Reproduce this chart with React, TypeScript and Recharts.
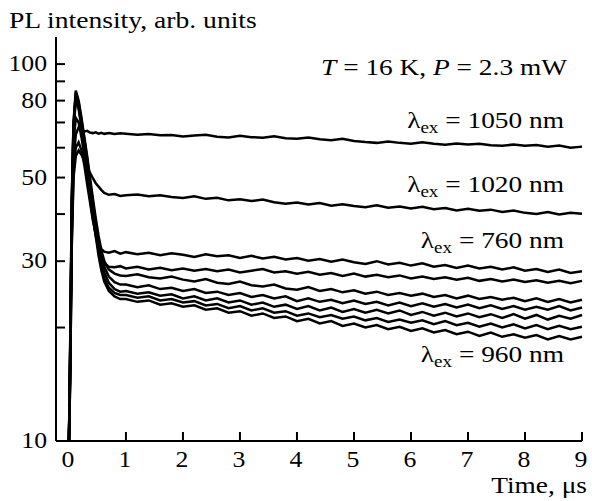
import { LineChart, Line, XAxis, YAxis } from "recharts";

// time axis, µs
const time = [
  0, 0.02, 0.05, 0.08, 0.12, 0.17, 0.22, 0.27, 0.32, 0.37, 0.42, 0.47, 0.52, 0.57, 0.62, 0.7, 0.8, 0.9,
  1.0, 1.2, 1.4, 1.6, 1.8, 2.0, 2.2, 2.4, 2.6, 2.8, 3.0, 3.2, 3.4, 3.6, 3.8, 4.0, 4.2, 4.4,
  4.6, 4.8, 5.0, 5.2, 5.4, 5.6, 5.8, 6.0, 6.2, 6.4, 6.6, 6.8, 7.0, 7.2, 7.4, 7.6, 7.8, 8.0,
  8.2, 8.4, 8.6, 8.8, 9.0,
];

const ex1050 = [
  10, 15, 36, 55, 65, 68, 67, 66.3, 66.5, 65.8, 65.6, 65.9, 65.4, 65.7, 65.3, 65.6, 65.2, 65.5,
  65.3, 64.9, 65.2, 64.7, 64.8, 64.3, 64.6, 64.9, 64.2, 63.9, 64.5, 64.0, 63.8, 64.3, 63.6, 63.4,
  63.9, 63.2, 62.8, 63.4, 62.5, 62.1, 61.8, 62.3, 61.8, 61.5, 62.0, 61.5, 61.1, 61.6, 61.2, 61.5,
  60.9, 60.7, 61.2, 60.7, 61.0, 60.4, 60.8, 60.0, 60.4,
];

const ex1020 = [
  10, 14, 33, 50, 57, 59, 57.5, 55.5, 53.3, 51.5, 49.8, 48.3, 47.3, 46.3, 45.5, 45.0, 45.2, 44.7,
  44.9, 45.1, 44.6, 44.9, 44.4, 44.1, 44.6, 43.9, 44.2, 43.5, 43.8, 43.3, 43.7, 43.0, 42.6, 42.9,
  42.4, 42.8, 42.1, 42.5, 42.0, 41.7, 42.2, 41.6, 41.9, 41.4, 41.8, 41.2, 41.5, 40.9, 41.3, 40.8,
  41.1, 40.5, 40.9, 40.3, 40.0, 40.5, 39.9, 40.3, 40.1,
];

const ex760 = [
  10, 14, 34, 52, 60, 62, 59, 54, 48, 43, 38.5, 35.5, 33.5, 32.3, 31.8, 31.6, 31.9, 31.4,
  31.7, 31.3, 31.6, 31.1, 31.5, 31.2, 30.8, 31.3, 30.9, 31.1, 30.6, 31.0, 30.5, 30.8, 30.3, 30.6,
  30.1, 30.4, 29.9, 30.3, 29.8, 29.5, 30.0, 29.4, 29.7, 29.2, 29.6, 29.0, 29.3, 28.8, 29.2, 28.7,
  29.0, 28.5, 28.9, 28.3, 28.6, 28.1, 28.5, 27.9, 28.2,
];

const exB = [
  10, 16, 40, 62, 72, 70, 64, 57, 50, 44, 39, 35, 32.3, 30.5, 29.6, 29.0, 28.9, 29.1,
  28.7, 29.0, 28.5, 28.8, 28.4, 28.7, 28.3, 28.6, 28.2, 28.5, 28.0, 28.3, 28.6, 28.0, 28.2, 27.8,
  28.1, 27.6, 27.9, 27.4, 27.8, 27.3, 27.6, 27.2, 27.5, 27.0, 27.3, 26.9, 27.2, 26.8, 27.1, 26.6,
  26.9, 26.5, 26.8, 26.4, 26.7, 26.3, 26.6, 26.2, 26.6,
];

const exC1 = [
  10, 17, 44, 70, 85, 80, 72, 64, 57, 50, 44, 39, 35, 32, 30, 28.5, 27.8, 27.5,
  27.4, 27.7, 27.2, 27.0, 27.3, 26.8, 26.5, 26.9, 26.3, 26.1, 26.5, 25.9, 25.7, 26.0, 25.4, 25.2,
  25.6, 25.0, 25.3, 24.8, 25.1, 24.6, 24.9, 24.4, 24.7, 24.3, 24.6, 24.1, 24.4, 23.9, 24.3, 23.8,
  24.1, 23.7, 24.0, 23.5, 23.9, 23.4, 23.8, 23.3, 23.7,
];

const exC2 = [
  10, 17, 43, 69, 84, 79, 71, 63, 56, 49, 43, 38, 34, 31, 29, 27.3, 26.4, 26.0,
  26.0, 25.6, 25.9, 25.3, 25.5, 25.0, 25.3, 24.7, 24.9, 24.4, 24.7, 24.1, 24.4, 23.9, 24.2, 23.5,
  23.9, 23.4, 23.7, 23.2, 23.6, 23.1, 23.4, 22.9, 23.3, 22.8, 23.2, 22.7, 23.1, 22.6, 23.0, 22.5,
  22.9, 22.4, 22.8, 22.3, 22.7, 22.3, 22.8, 22.2, 22.6,
];

const exC3 = [
  10, 16, 42, 68, 83, 78, 70, 62, 55, 48, 42, 37, 33, 30, 28, 26.3, 25.3, 24.9,
  25.0, 24.6, 24.8, 24.3, 24.5, 23.9, 24.2, 23.6, 23.9, 23.3, 23.6, 23.0, 23.3, 22.7, 23.0, 22.4,
  22.8, 22.2, 22.6, 22.0, 22.4, 21.9, 22.3, 21.8, 22.2, 21.6, 22.0, 21.5, 21.9, 21.4, 21.8, 21.3,
  21.7, 21.2, 21.7, 21.1, 21.6, 21.0, 21.5, 21.1, 21.6,
];

const exC4 = [
  10, 16, 41, 67, 82, 77, 69, 61, 54, 47, 41, 36, 32, 29, 27, 25.5, 24.7, 24.4,
  24.4, 24.0, 24.2, 23.6, 23.8, 23.3, 23.5, 22.9, 23.1, 22.5, 22.8, 22.2, 22.5, 21.9, 22.1, 21.5,
  21.8, 21.3, 21.6, 21.1, 21.4, 20.9, 21.2, 20.7, 21.0, 20.6, 20.9, 20.4, 20.8, 20.3, 20.6, 20.1,
  20.5, 20.0, 20.4, 19.9, 20.3, 19.8, 20.2, 19.8, 20.1,
];

const ex960 = [
  10, 15, 40, 66, 81, 76, 68, 60, 53, 46, 40, 35, 31, 28.3, 26.5, 25.0, 24.2, 23.8,
  23.8, 23.4, 23.6, 23.0, 23.2, 22.7, 22.9, 22.3, 22.5, 21.9, 22.1, 21.5, 21.8, 21.2, 21.4, 20.8,
  21.1, 20.5, 20.8, 20.2, 20.5, 20.0, 20.3, 19.8, 20.1, 19.6, 19.9, 19.4, 19.7, 19.2, 19.5, 19.0,
  19.4, 18.9, 19.2, 18.8, 19.1, 18.6, 19.0, 18.6, 18.9,
];

const series = [ex1050, ex1020, ex760, exB, exC1, exC2, exC3, exC4, ex960];

const xTicks = [0, 1, 2, 3, 4, 5, 6, 7, 8, 9];
const yTicks = [10, 20, 30, 40, 50, 60, 70, 80, 90, 100];
const yLabels = [10, 30, 50, 80, 100];

const data = time.map((t, i) => {
  const row: any = { t };
  series.forEach((s, k) => {
    row["s" + k] = s[i];
  });
  return row;
});

const font = "'Liberation Serif', 'Times New Roman', serif";
const txt = { fontFamily: font, fontSize: 23, fill: "#000" };
// the scanned figure's type is a bit wider than Times
const stretch = (x: number, y: number, k = 1.19) => `translate(${x},${y}) scale(${k},1)`;

function YTick(props: any) {
  const { x, y, payload } = props;
  const v = payload.value;
  return (
    <g>
      <line x1={x} x2={x + 9} y1={y} y2={y} stroke="#000" strokeWidth={2} />
      {yLabels.includes(v) && (
        <text transform={stretch(x - 9, y - 1, 1.12)} textAnchor="end" dominantBaseline="central" {...txt}>
          {v}
        </text>
      )}
    </g>
  );
}

function XTick(props: any) {
  const { x, y, payload } = props;
  return (
    <g>
      <line x1={x} x2={x} y1={y} y2={y - 9} stroke="#000" strokeWidth={2} />
      <text transform={stretch(x - 1, y + 26, 1.12)} textAnchor="middle" {...txt}>
        {payload.value}
      </text>
    </g>
  );
}

function Lambda({ x, y, nm }: { x: number; y: number; nm: string }) {
  return (
    <text transform={stretch(x, y)} textAnchor="end" {...txt}>
      λ
      <tspan fontSize={16} dy={5}>
        ex
      </tspan>
      <tspan dy={-5}>{" = " + nm + " nm"}</tspan>
    </text>
  );
}

export default function App() {
  return (
    <div style={{ position: "absolute", left: 0, top: 0, width: 592, height: 501, background: "#fff" }}>
      <LineChart width={592} height={501} data={data} margin={{ top: 37, right: 10, bottom: 0, left: 0 }}>
        <XAxis
          dataKey="t"
          type="number"
          domain={[-0.227, 9]}
          ticks={xTicks}
          interval={0}
          tickSize={0}
          tickMargin={0}
          tickLine={false}
          height={60}
          axisLine={{ stroke: "#000", strokeWidth: 2 }}
          tick={<XTick />}
        />
        <YAxis
          scale="log"
          type="number"
          domain={[10, 118]}
          allowDataOverflow
          ticks={yTicks}
          interval={0}
          tickSize={0}
          tickMargin={0}
          tickLine={false}
          width={56}
          axisLine={{ stroke: "#000", strokeWidth: 2 }}
          tick={<YTick />}
        />
        {series.map((_, k) => (
          <Line
            key={k}
            dataKey={"s" + k}
            type="linear"
            stroke="#000"
            strokeWidth={2.5}
            dot={false}
            isAnimationActive={false}
          />
        ))}
      </LineChart>
      <svg width={592} height={501} style={{ position: "absolute", left: 0, top: 0, pointerEvents: "none" }}>
        <text transform={stretch(9, 28, 1.2)} {...txt}>
          PL intensity, arb. units
        </text>
        <text transform={stretch(567, 75)} textAnchor="end" {...txt}>
          <tspan fontStyle="italic">T</tspan> = 16 K, <tspan fontStyle="italic">P</tspan> = 2.3 mW
        </text>
        <Lambda x={564} y={128} nm="1050" />
        <Lambda x={564} y={192} nm="1020" />
        <Lambda x={564} y={248} nm="760" />
        <Lambda x={564} y={362} nm="960" />
        <text transform={stretch(587, 493)} textAnchor="end" {...txt}>
          Time, μs
        </text>
      </svg>
    </div>
  );
}
